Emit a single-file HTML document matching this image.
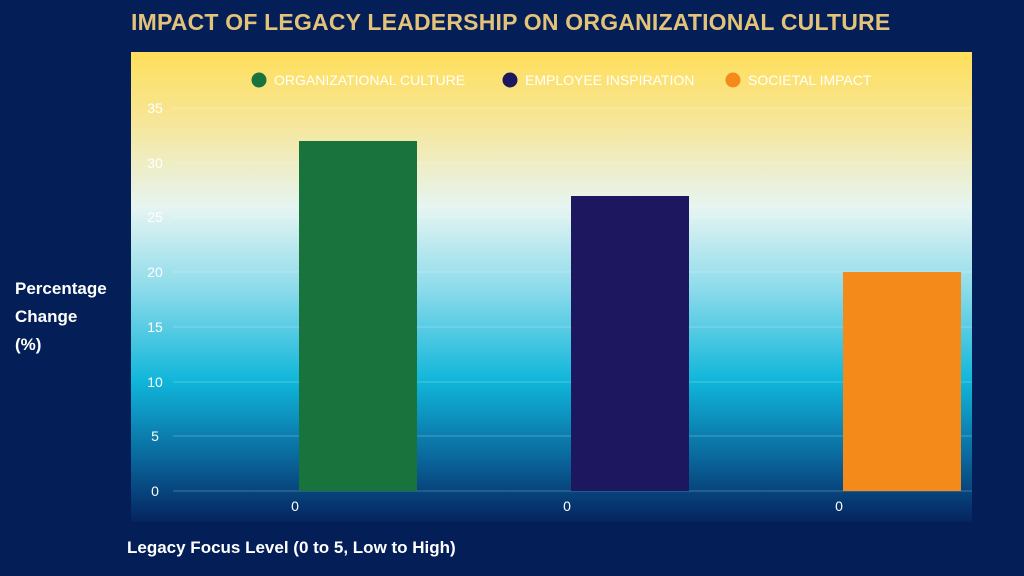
<!DOCTYPE html>
<html><head><style>
body{margin:0;width:1024px;height:576px;background:#041f57;font-family:"Liberation Sans",sans-serif;position:relative;overflow:hidden}
.t{position:absolute;color:#fff}
</style></head><body>
<div class="t" style="left:131px;top:9px;font-size:23px;font-weight:bold;color:#e3c27a;letter-spacing:0.2px">IMPACT OF LEGACY LEADERSHIP ON ORGANIZATIONAL CULTURE</div>
<svg width="1024" height="576" style="position:absolute;left:0;top:0">
<defs><linearGradient id="g" x1="0" y1="0" x2="0" y2="1">
<stop offset="0" stop-color="#ffdf5a"/>
<stop offset="0.15" stop-color="#f6e699"/>
<stop offset="0.33" stop-color="#e6f5f2"/>
<stop offset="0.5" stop-color="#8fdceb"/>
<stop offset="0.7" stop-color="#10b6da"/>
<stop offset="0.85" stop-color="#0a6ea2"/>
<stop offset="1" stop-color="#05245f"/>
</linearGradient></defs>
<rect x="131" y="52" width="841" height="470" fill="url(#g)"/>
<g stroke="#ffffff" stroke-opacity="0.25" stroke-width="1">
<line x1="173" x2="972" y1="108" y2="108"/><line x1="173" x2="972" y1="163" y2="163"/>
<line x1="173" x2="972" y1="217" y2="217"/><line x1="173" x2="972" y1="272" y2="272"/>
<line x1="173" x2="972" y1="327" y2="327"/><line x1="173" x2="972" y1="382" y2="382"/>
<line x1="173" x2="972" y1="436" y2="436"/><line x1="173" x2="972" y1="491" y2="491"/>
</g>
<g fill="#fff" font-size="14" text-anchor="middle" font-family="Liberation Sans">
<text x="155" y="113">35</text><text x="155" y="168">30</text><text x="155" y="222">25</text>
<text x="155" y="277">20</text><text x="155" y="332">15</text><text x="155" y="387">10</text>
<text x="155" y="441">5</text><text x="155" y="496">0</text>
<text x="295" y="511">0</text><text x="567" y="511">0</text><text x="839" y="511">0</text>
</g>
<rect x="299" y="141" width="118" height="350" fill="#18733d"/>
<rect x="571" y="196" width="118" height="295" fill="#1d1760"/>
<rect x="843" y="272" width="118" height="219" fill="#f48a19"/>
<g font-size="14" fill="#fff" font-family="Liberation Sans">
<circle cx="259" cy="80" r="7.5" fill="#18733d"/><text x="274" y="85">ORGANIZATIONAL CULTURE</text>
<circle cx="510" cy="80" r="7.5" fill="#1d1760"/><text x="525" y="85">EMPLOYEE INSPIRATION</text>
<circle cx="733" cy="80" r="7.5" fill="#f48a19"/><text x="748" y="85">SOCIETAL IMPACT</text>
</g>
</svg>
<div class="t" style="left:15px;top:275px;font-size:17px;font-weight:bold;line-height:28px">Percentage<br>Change<br>(%)</div>
<div class="t" style="left:127px;top:538px;font-size:17px;font-weight:bold">Legacy Focus Level (0 to 5, Low to High)</div>
</body></html>
